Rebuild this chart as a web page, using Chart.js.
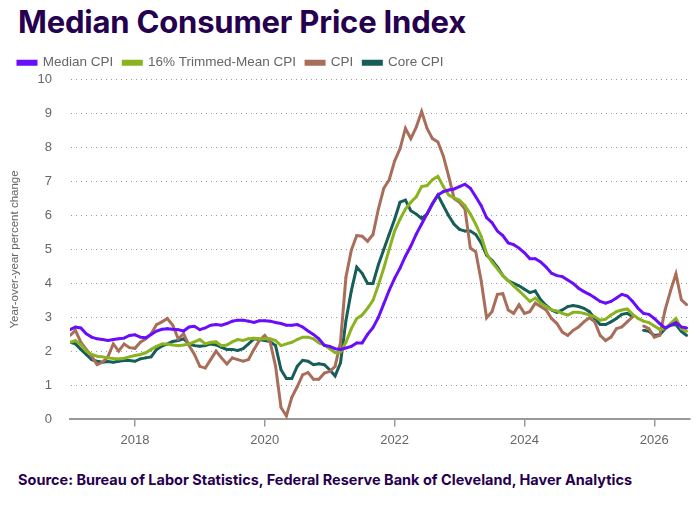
<!DOCTYPE html>
<html><head><meta charset="utf-8">
<script src="https://cdn.jsdelivr.net/npm/chart.js@4"></script>
<style>
body{margin:0;width:700px;height:514px;background:#fff;font-family:Inter,"Liberation Sans",sans-serif;position:relative;overflow:hidden}
#t{position:absolute;left:18px;top:3px;font-size:31px;font-weight:700;color:#26004f;margin:0;letter-spacing:-0.2px}
#s{position:absolute;left:18px;top:471px;font-size:14.5px;font-weight:700;color:#26004f}
#w{position:absolute;left:0;top:46px;width:700px;height:412px}
</style></head><body>
<h1 id="t">Median Consumer Price Index</h1>
<div id="w"><canvas id="c"></canvas></div>
<div id="s">Source: Bureau of Labor Statistics, Federal Reserve Bank of Cleveland, Haver Analytics</div>
<script>
const startYear = 2017; // monthly from Jan 2017
const xTicks = [2018, 2020, 2022, 2024, 2026];
const medianCPI = [2.64,2.72,2.69,2.52,2.42,2.37,2.35,2.32,2.35,2.37,2.39,2.47,2.49,2.42,2.4,2.5,2.6,2.65,2.67,2.65,2.64,2.6,2.72,2.74,2.64,2.69,2.77,2.79,2.77,2.82,2.89,2.92,2.92,2.89,2.85,2.9,2.9,2.89,2.85,2.82,2.77,2.77,2.79,2.72,2.6,2.5,2.37,2.18,2.15,2.08,2.06,2.1,2.15,2.25,2.25,2.5,2.7,3.0,3.4,3.8,4.15,4.45,4.8,5.1,5.45,5.75,6.05,6.35,6.6,6.7,6.75,6.78,6.85,6.92,6.8,6.55,6.29,5.94,5.79,5.54,5.41,5.19,5.14,5.04,4.9,4.73,4.73,4.63,4.48,4.3,4.23,4.2,4.1,4.0,3.86,3.76,3.68,3.58,3.47,3.42,3.47,3.57,3.68,3.63,3.47,3.27,3.12,3.09,2.97,2.82,2.69,2.77,2.85,2.72,2.69];
const trimmedMeanCPI = [2.27,2.32,2.2,2.01,1.91,1.86,1.84,1.81,1.79,1.78,1.8,1.84,1.88,1.91,1.96,2.06,2.15,2.22,2.22,2.19,2.17,2.19,2.22,2.28,2.35,2.22,2.27,2.28,2.17,2.19,2.28,2.35,2.32,2.37,2.39,2.37,2.37,2.37,2.32,2.17,2.22,2.27,2.35,2.42,2.42,2.37,2.25,2.19,2.08,1.96,1.98,2.27,2.67,2.97,3.07,3.27,3.5,3.95,4.45,5.0,5.54,5.89,6.19,6.39,6.55,6.85,6.88,7.05,7.15,6.85,6.6,6.52,6.45,6.29,6.04,5.74,5.39,4.88,4.63,4.43,4.23,4.08,3.93,3.78,3.63,3.47,3.57,3.42,3.32,3.22,3.19,3.12,3.07,3.15,3.15,3.12,3.07,3.02,2.92,2.95,3.07,3.17,3.22,3.25,3.09,2.97,2.89,2.85,2.75,2.65,2.67,2.82,2.97,2.67,2.59];
const cpi = [2.47,2.62,2.27,2.06,1.86,1.61,1.68,1.84,2.22,2.01,2.22,2.11,2.09,2.27,2.37,2.52,2.79,2.87,2.97,2.77,2.37,2.52,2.17,1.91,1.56,1.51,1.76,2.01,1.81,1.63,1.81,1.76,1.71,1.76,2.06,2.32,2.47,2.27,1.56,0.35,0.1,0.65,0.96,1.31,1.38,1.18,1.18,1.36,1.41,1.56,2.27,4.18,4.98,5.41,5.39,5.24,5.44,6.19,6.8,7.05,7.6,7.96,8.56,8.26,8.6,9.06,8.56,8.26,8.16,7.75,7.15,6.5,6.39,6.19,5.04,4.93,4.08,2.99,3.17,3.68,3.7,3.22,3.12,3.37,3.12,3.17,3.42,3.32,3.22,2.97,2.82,2.57,2.47,2.62,2.72,2.87,2.99,2.87,2.47,2.32,2.42,2.67,2.72,2.87,3.02,null,2.75,2.67,2.42,2.47,3.22,3.78,4.28,3.52,3.37];
const coreCPI = [2.27,2.22,2.06,1.91,1.76,1.71,1.68,1.7,1.68,1.71,1.73,1.73,1.71,1.78,1.81,1.84,2.06,2.16,2.22,2.29,2.32,2.37,2.22,2.17,2.15,2.17,2.22,2.19,2.12,2.06,2.06,2.03,2.08,2.22,2.37,2.35,2.32,2.29,2.17,1.46,1.2,1.2,1.56,1.74,1.71,1.61,1.64,1.61,1.46,1.28,1.66,2.9,3.78,4.48,4.3,4.0,4.0,4.55,5.0,5.45,5.89,6.39,6.45,6.14,6.04,5.91,6.04,6.34,6.6,6.29,5.99,5.74,5.59,5.54,5.54,5.44,5.19,4.83,4.68,4.48,4.23,4.08,4.0,3.93,3.83,3.73,3.78,3.52,3.35,3.22,3.15,3.22,3.32,3.35,3.32,3.27,3.17,2.97,2.79,2.79,2.87,2.97,3.09,3.12,3.02,null,2.62,2.59,2.47,2.49,2.67,2.77,2.79,2.59,2.47];

const toXY = arr => arr.map((v,i)=>({x:startYear+i/12, y:v}));
const ds = (label, data, color) => ({label, data: toXY(data), borderColor: color, backgroundColor: color,
  borderWidth: 3, pointRadius: 1.3, pointHoverRadius: 0, pointBorderWidth: 0, tension: 0, spanGaps: false});

new Chart(document.getElementById('c'), {
  type: 'line',
  data: { datasets: [
    ds('Median CPI', medianCPI, '#6a0dfb'),
    ds('16% Trimmed-Mean CPI', trimmedMeanCPI, '#8ab320'),
    ds('CPI', cpi, '#a96e5a'),
    ds('Core CPI', coreCPI, '#175e58')
  ]},
  options: {
    responsive: true, maintainAspectRatio: false, animation: false,
    layout: { padding: { left: 8, right: 10, top: 0, bottom: 4 } },
    plugins: {
      legend: { align: 'start', labels: { boxWidth: 18, boxHeight: 3,
        color: '#666', font: { family: 'Arial, "Liberation Sans"', size: 13.5 }, padding: 10 } },
      tooltip: { enabled: false }
    },
    scales: {
      x: { type: 'linear', min: 2017, max: 2026.55,
        afterBuildTicks: s => { s.ticks = xTicks.map(v=>({value:v})); },
        ticks: { color: '#666', font: { family: 'Arial, "Liberation Sans"', size: 13 }, padding: 6,
          callback: v => String(v) },
        grid: { drawOnChartArea: false, color: '#999', tickLength: 7, lineWidth: 1.5 },
        border: { color: '#999', width: 2 } },
      y: { min: 0, max: 10,
        afterFit: s => { s.width = 62; },
        ticks: { stepSize: 1, color: '#666', font: { family: 'Arial, "Liberation Sans"', size: 13 }, padding: 18 },
        title: { display: true, text: 'Year-over-year percent change', color: '#666',
          font: { family: 'Arial, "Liberation Sans"', size: 11.5 }, padding: 0 },
        grid: { color: '#999', lineWidth: 1, drawTicks: false },
        border: { display: true, color: 'rgba(0,0,0,0)', dash: [1,4] } }
    }
  }
});
</script>
</body></html>
